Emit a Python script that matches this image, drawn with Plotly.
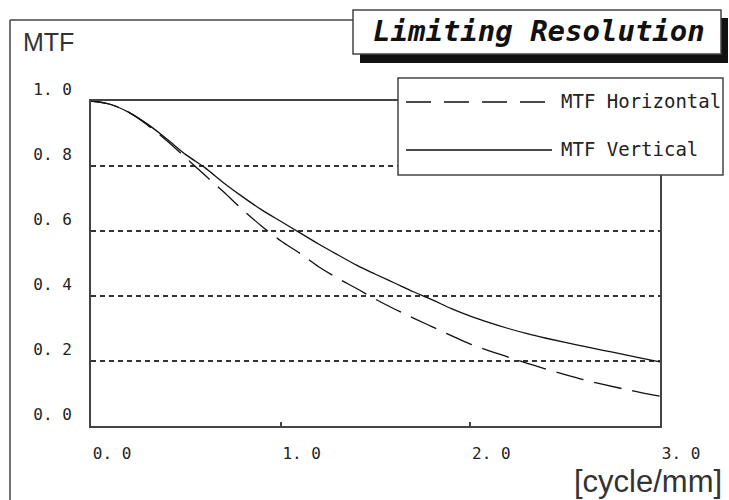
import plotly.graph_objects as go

# ---------------- data ----------------
freq = [0.0, 0.1, 0.2, 0.3, 0.4, 0.5, 0.6, 0.7, 0.8, 0.9, 1.0,
        1.1, 1.2, 1.3, 1.4, 1.5, 1.6, 1.7, 1.8, 1.9, 2.0,
        2.1, 2.2, 2.3, 2.4, 2.5, 2.6, 2.7, 2.8, 2.9, 3.0]
mtf_horizontal = [1.000, 0.990, 0.965, 0.925, 0.878, 0.825, 0.772, 0.720, 0.665, 0.615, 0.570,
                  0.532, 0.490, 0.455, 0.423, 0.390, 0.360, 0.332, 0.305, 0.278, 0.252,
                  0.231, 0.212, 0.193, 0.175, 0.158, 0.142, 0.128, 0.115, 0.103, 0.092]
mtf_vertical = [1.000, 0.990, 0.965, 0.928, 0.883, 0.835, 0.795, 0.748, 0.705, 0.665, 0.630,
                0.595, 0.560, 0.527, 0.495, 0.467, 0.440, 0.413, 0.388, 0.361, 0.338,
                0.318, 0.300, 0.284, 0.270, 0.257, 0.245, 0.233, 0.221, 0.209, 0.197]
series_names = ["MTF Horizontal", "MTF Vertical"]
x_ticks = [0, 1, 2, 3]
x_tick_text = ["0. 0", "1. 0", "2. 0", "3. 0"]
y_ticks = [0, 0.2, 0.4, 0.6, 0.8, 1.0]
y_tick_text = ["0. 0", "0. 2", "0. 4", "0. 6", "0. 8", "1. 0"]
title_text = "Limiting Resolution"
y_title = "MTF"
x_title = "[cycle/mm]"

# ---------------- layout geometry (pixels) ----------------
W, H = 729, 500
L, R, T, B = 91, 660, 101, 426


def px(xp):
    return (xp - L) / (R - L)


def py(yp):
    return (B - yp) / (B - T)


MONO = "DejaVu Sans Mono"
INK = "#222222"
LINE = "#444444"

fig = go.Figure()
fig.add_trace(go.Scatter(x=freq, y=mtf_horizontal, mode="lines", name=series_names[0],
                         line=dict(color="#111111", width=1.3, dash="28px,11px", shape="spline"),
                         showlegend=False))
fig.add_trace(go.Scatter(x=freq, y=mtf_vertical, mode="lines", name=series_names[1],
                         line=dict(color="#111111", width=1.3, shape="spline"),
                         showlegend=False))

shapes = []
# outer frame (top + left)
shapes.append(dict(type="line", xref="paper", yref="paper", x0=px(10), x1=px(353), y0=py(20), y1=py(20),
                   line=dict(color=LINE, width=1.5), layer="above"))
shapes.append(dict(type="line", xref="paper", yref="paper", x0=px(10), x1=px(10), y0=py(20), y1=py(502),
                   line=dict(color=LINE, width=1.5), layer="above"))
# title box shadow + box
shapes.append(dict(type="rect", xref="paper", yref="paper", x0=px(360), x1=px(728), y0=py(18), y1=py(63),
                   fillcolor="#111111", line=dict(width=0), layer="above"))
shapes.append(dict(type="rect", xref="paper", yref="paper", x0=px(353), x1=px(721), y0=py(10), y1=py(54),
                   fillcolor="white", line=dict(color=LINE, width=1.5), layer="above"))
# legend box
shapes.append(dict(type="rect", xref="paper", yref="paper", x0=px(398), x1=px(723), y0=py(78), y1=py(175),
                   fillcolor="white", line=dict(color=LINE, width=1.5), layer="above"))
# legend samples
shapes.append(dict(type="line", xref="paper", yref="paper", x0=px(406), x1=px(552), y0=py(102), y1=py(102),
                   line=dict(color="#111111", width=1.3, dash="25px,13px"), layer="above"))
shapes.append(dict(type="line", xref="paper", yref="paper", x0=px(406), x1=px(552), y0=py(150), y1=py(150),
                   line=dict(color="#111111", width=1.3), layer="above"))

annotations = [
    dict(text=f"<b><i>{title_text}</i></b>", x=px(539), y=py(31), xref="paper", yref="paper",
         xanchor="center", yanchor="middle", showarrow=False,
         font=dict(family=MONO, size=29, color="#111111")),
    dict(text=series_names[0], x=px(559), y=py(101), xref="paper", yref="paper",
         xanchor="left", yanchor="middle", showarrow=False,
         font=dict(family=MONO, size=19, color=INK)),
    dict(text=series_names[1], x=px(559), y=py(149), xref="paper", yref="paper",
         xanchor="left", yanchor="middle", showarrow=False,
         font=dict(family=MONO, size=19, color=INK)),
    dict(text=y_title, x=px(21), y=py(42), xref="paper", yref="paper",
         xanchor="left", yanchor="middle", showarrow=False,
         font=dict(family="Liberation Sans", size=25, color="#333333")),
    dict(text=x_title, x=px(724), y=py(481), xref="paper", yref="paper",
         xanchor="right", yanchor="middle", showarrow=False,
         font=dict(family="Liberation Sans", size=31, color="#333333")),
]

fig.update_layout(
    width=W, height=H,
    margin=dict(l=L, r=W - R, t=T, b=H - B, pad=0),
    paper_bgcolor="white", plot_bgcolor="white",
    shapes=shapes, annotations=annotations,
    showlegend=False,
    xaxis=dict(range=[0, 3], tickvals=x_ticks, ticktext=x_tick_text,
               showgrid=False, zeroline=False,
               showline=True, linecolor=LINE, linewidth=2, mirror=True,
               ticks="inside", ticklen=4, tickcolor=LINE, tickwidth=1.5,
               ticklabelposition="outside right", ticklabelstandoff=12,
               tickfont=dict(family=MONO, size=16, color=INK)),
    yaxis=dict(range=[0, 1], tickvals=y_ticks, ticktext=y_tick_text,
               showgrid=True, gridcolor="#333333", gridwidth=1.6, griddash="5px,4px",
               zeroline=False,
               showline=True, linecolor=LINE, linewidth=2, mirror=True,
               ticks="", ticklabelposition="outside top", ticklabelstandoff=14,
               tickfont=dict(family=MONO, size=16, color=INK)),
)

fig.write_html("out.html", config={"displayModeBar": False},
               post_script="document.body.style.margin='0';document.body.style.padding='0';")
